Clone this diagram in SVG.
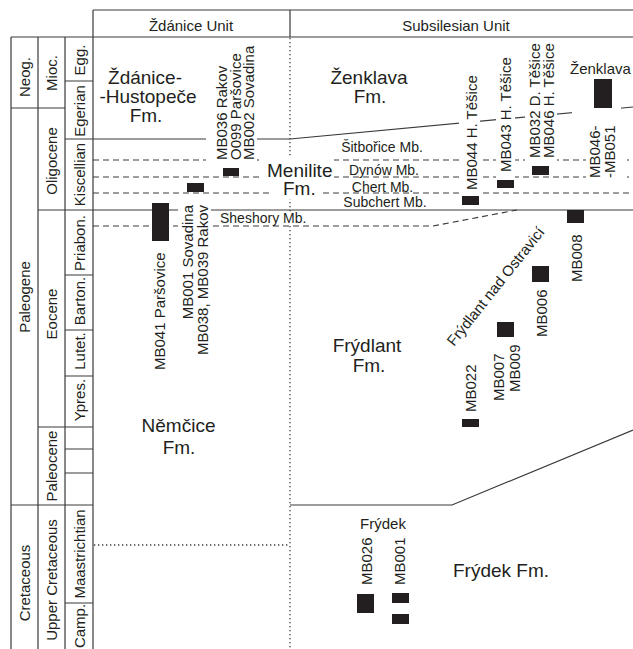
<svg xmlns="http://www.w3.org/2000/svg" width="633" height="649" viewBox="0 0 633 649">
<style>
text{font-family:"Liberation Sans",Arial,Helvetica,sans-serif;fill:#231f20}
.t15{font-size:15px}
.t14{font-size:14px}
.fm{font-size:19px}
.mid{text-anchor:middle}
.end{text-anchor:end}
.ln{stroke:#3a3a3a;stroke-width:1.2;fill:none}
.dash{stroke:#3a3a3a;stroke-width:1.1;fill:none;stroke-dasharray:6 4}
.dot{stroke:#3a3a3a;stroke-width:1.3;fill:none;stroke-dasharray:1.3 2.7}
.bar{fill:#231f20}
.bg{fill:#fff}
</style>
<rect width="633" height="649" fill="#fff"/>

<g id="connectors">
  <!-- table frame -->
  <path class="ln" d="M93 10H633M11 37H633M93 10V649M290 10V37M11 37V649M38 37V649M65 37V649"/>
  <!-- period / epoch boundaries -->
  <path class="ln" d="M11 108H65M11 505H93M38 427H93M38 210H93"/>
  <!-- stage boundaries -->
  <path class="ln" d="M65 81H93M65 275H93M65 330H93M65 376H93M65 449H93M65 473H93M65 603H93"/>
  <!-- formation boundaries -->
  <path class="ln" d="M65 139H290L633 107"/>
  <path class="ln" d="M93 210H633"/>
  <path class="ln" d="M290 505H452L633 430"/>
  <path class="dash" d="M93 160H633M93 177H633M93 193H633"/>
  <path class="dash" d="M93 226H433L517 210"/>
  <path class="dot" d="M290 38V649"/>
  <path class="dot" d="M94 545H290"/>
</g>

<g id="label-backgrounds">
  <rect class="bg" x="206" y="40" width="51" height="123"/>
  <rect class="bg" x="178" y="200" width="33" height="160"/>
  <rect class="bg" x="263" y="156" width="71" height="26"/>
  <rect class="bg" x="272" y="182" width="50" height="17"/>
  <rect class="bg" x="218" y="212" width="92" height="12"/>
  <rect class="bg" x="459" y="70" width="21" height="126"/>
  <rect class="bg" x="496" y="50" width="19" height="129"/>
  <rect class="bg" x="525" y="38" width="32" height="125"/>
  <rect class="bg" x="572" y="100" width="49" height="18"/>
  <rect class="bg" x="586" y="118" width="41" height="63"/>
</g>

<g id="headers">
  <text class="t15 mid" x="191" y="31">Ždánice Unit</text>
  <text class="t15 mid" x="456" y="31">Subsilesian Unit</text>
</g>

<g id="timescale">
  <text class="t15 mid" transform="translate(30,77) rotate(-90)">Neog.</text>
  <text class="t15 mid" transform="translate(30,297) rotate(-90)">Paleogene</text>
  <text class="t15 mid" transform="translate(30,583) rotate(-90)">Cretaceous</text>
  <text class="t15 mid" transform="translate(57,73) rotate(-90)">Mioc.</text>
  <text class="t15 mid" transform="translate(57,161) rotate(-90)">Oligocene</text>
  <text class="t15 mid" transform="translate(57,314) rotate(-90)">Eocene</text>
  <text class="t15 mid" transform="translate(57,466) rotate(-90)">Paleocene</text>
  <text class="t15 mid" transform="translate(57,580) rotate(-90)">Upper Cretaceous</text>
  <text class="t15 mid" transform="translate(84.5,60) rotate(-90)">Egg.</text>
  <text class="t15 mid" transform="translate(84.5,111) rotate(-90)">Egerian</text>
  <text class="t15 mid" transform="translate(84.5,174.5) rotate(-90)">Kiscellian</text>
  <text class="t15 mid" transform="translate(84.5,243) rotate(-90)">Priabon.</text>
  <text class="t15 mid" transform="translate(84.5,301) rotate(-90)">Barton.</text>
  <text class="t15 mid" transform="translate(84.5,351) rotate(-90)">Lutet.</text>
  <text class="t15 mid" transform="translate(84.5,400) rotate(-90)">Ypres.</text>
  <text class="t15 mid" transform="translate(84.5,554) rotate(-90)">Maastrichtian</text>
  <text class="t15 mid" transform="translate(84.5,626) rotate(-90)">Camp.</text>
</g>

<g id="formations">
  <text class="fm mid" x="145" y="84">Ždánice-</text>
  <text class="fm mid" x="148" y="103">-Hustopeče</text>
  <text class="fm mid" x="146" y="122">Fm.</text>
  <text class="fm mid" x="369" y="83.5">Ženklava</text>
  <text class="fm mid" x="370" y="102.5">Fm.</text>
  <text class="fm" x="267" y="177">Menilite</text>
  <text class="fm" x="283" y="195">Fm.</text>
  <text class="fm mid" x="367" y="352">Frýdlant</text>
  <text class="fm mid" x="369" y="372">Fm.</text>
  <text class="fm mid" x="178.5" y="432">Němčice</text>
  <text class="fm mid" x="179" y="454">Fm.</text>
  <text class="fm" x="453" y="577">Frýdek Fm.</text>
  <text class="t14 mid" x="382" y="152">Šitbořice Mb.</text>
  <text class="t14 mid" x="384" y="174.5">Dynów Mb.</text>
  <text class="t14 mid" x="382.5" y="191.5">Chert Mb.</text>
  <text class="t14 mid" x="385" y="207">Subchert Mb.</text>
  <text class="t14" x="220" y="223">Sheshory Mb.</text>
</g>

<g id="site-rakov-parsovice-sovadina">
  <text class="t15" transform="translate(227,160) rotate(-90)">MB036 Rakov</text>
  <text class="t15" transform="translate(240.5,160) rotate(-90)">O099 Paršovice</text>
  <text class="t15" transform="translate(254,160) rotate(-90)">MB002 Sovadina</text>
  <rect class="bar" x="223" y="168" width="16" height="8"/>
</g>
<g id="site-sovadina-rakov">
  <text class="t15 end" transform="translate(193,205) rotate(-90)">MB001 Sovadina</text>
  <text class="t15 end" transform="translate(208,205) rotate(-90)">MB038, MB039 Rakov</text>
  <rect class="bar" x="187" y="183" width="17" height="9"/>
</g>
<g id="site-mb041">
  <text class="t15" transform="translate(165,370) rotate(-90)">MB041 Paršovice</text>
  <rect class="bar" x="152" y="203" width="17" height="38"/>
</g>
<g id="site-mb044">
  <text class="t15" transform="translate(476.5,190) rotate(-90)">MB044 H. Těšice</text>
  <rect class="bar" x="462" y="196" width="17" height="9"/>
</g>
<g id="site-mb043">
  <text class="t15" transform="translate(511,172) rotate(-90)">MB043 H. Těšice</text>
  <rect class="bar" x="497" y="180" width="17" height="8"/>
</g>
<g id="site-mb032-mb046">
  <text class="t15" transform="translate(540,158) rotate(-90)">MB032 D. Těšice</text>
  <text class="t15" transform="translate(554,158) rotate(-90)">MB046 H. Těšice</text>
  <rect class="bar" x="532" y="166" width="17" height="9"/>
</g>
<g id="site-zenklava">
  <text class="t15" x="570" y="74">Ženklava</text>
  <rect class="bar" x="594" y="79" width="18" height="29"/>
  <text class="t15" transform="translate(600,178) rotate(-90)">MB046-</text>
  <text class="t15" transform="translate(615,178) rotate(-90)">-MB051</text>
</g>
<g id="site-frydlant">
  <text class="t15" transform="translate(454,347) rotate(-51.5)">Frýdlant nad Ostravicí</text>
  <rect class="bar" x="567" y="210" width="17" height="13"/>
  <text class="t15" transform="translate(582,282) rotate(-90)">MB008</text>
  <rect class="bar" x="532" y="266" width="17" height="16"/>
  <text class="t15" transform="translate(547,337) rotate(-90)">MB006</text>
  <rect class="bar" x="497" y="322" width="17" height="15"/>
  <text class="t15" transform="translate(504,401) rotate(-90)">MB007</text>
  <text class="t15" transform="translate(520,392) rotate(-90)">MB009</text>
  <text class="t15" transform="translate(476,412) rotate(-90)">MB022</text>
  <rect class="bar" x="462" y="419" width="17" height="8"/>
</g>
<g id="site-frydek">
  <text class="t15 mid" x="383" y="529">Frýdek</text>
  <text class="t15" transform="translate(372,585) rotate(-90)">MB026</text>
  <text class="t15" transform="translate(405,585) rotate(-90)">MB001</text>
  <rect class="bar" x="357" y="594" width="17" height="19"/>
  <rect class="bar" x="392" y="593" width="17" height="10"/>
  <rect class="bar" x="392" y="614" width="17" height="10"/>
</g>
</svg>
